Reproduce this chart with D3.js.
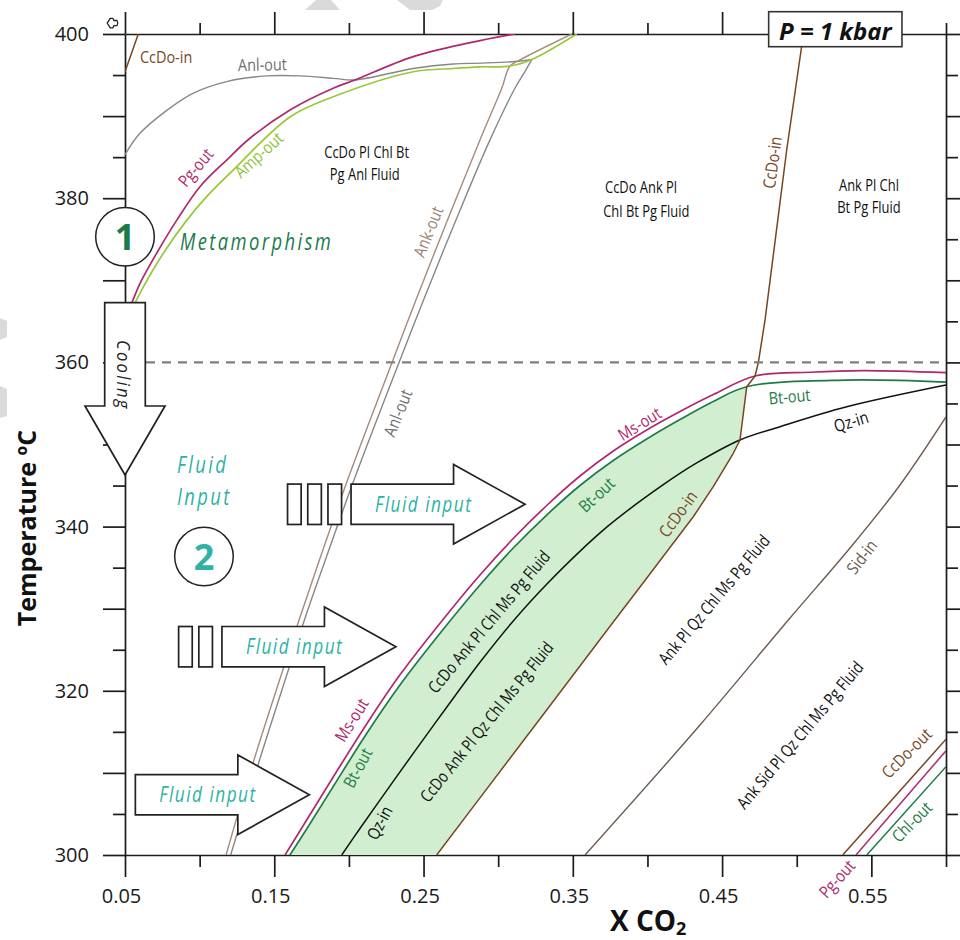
<!DOCTYPE html>
<html>
<head>
<meta charset="utf-8">
<script src="https://cdn.jsdelivr.net/npm/d3@7"></script>
<style>
  body { margin: 0; background: #fff; }
  svg { display: block; }
</style>
</head>
<body>
<svg id="chart" width="960" height="940"></svg>
<script>
// ---------- axis ticks ----------
const xMajorTicks = [0.05, 0.15, 0.25, 0.35, 0.45, 0.55];
const xMinorTicks = [0.10, 0.20, 0.30, 0.40, 0.50, 0.60];
const yMajorTicks = [300, 310, 320, 330, 340, 350, 360, 370, 380, 390, 400];
const yMinorTicks = [305, 315, 325, 335, 345, 355, 365, 375, 385, 395];
const yTickLabels = [300, 320, 340, 360, 380, 400];

// ---------- phase boundaries, [X CO2, T (°C)] ----------
const ccdoInCorner = [[0.05, 395.4], [0.0589, 400]];
const anlOutUpper = [[0.05, 385.3], [0.06, 387.9], [0.078, 390.7], [0.0958, 392.8], [0.1181, 394.2],
  [0.1449, 394.9], [0.1672, 394.9], [0.1895, 394.6], [0.2041, 394.4], [0.2431, 395.8],
  [0.2699, 396.35], [0.2878, 396.45], [0.3113, 396.65], [0.3225, 396.9]];
const pgOut = [[0.05, 365.2], [0.0545, 367.2], [0.06, 369.6], [0.0712, 373.3], [0.0846, 377.3],
  [0.1002, 381.4], [0.1181, 384.65], [0.1337, 387.3], [0.1605, 390.75], [0.1895, 393.4],
  [0.2041, 394.4], [0.2431, 397.25], [0.2878, 399.2], [0.3113, 400]];
const ampOut = [[0.05, 364.6], [0.0567, 367.2], [0.0623, 369.2], [0.0757, 373.3], [0.0913, 377.3],
  [0.1047, 380.2], [0.1226, 383.45], [0.1605, 389.9], [0.1895, 392.35], [0.2431, 395.4],
  [0.2699, 395.8], [0.2878, 396.0], [0.3079, 396.1], [0.3225, 396.9], [0.3526, 400]];
const ankOut = [[0.1177, 300], [0.1364, 311.57], [0.1572, 323.35], [0.1666, 328.63], [0.181, 336.33],
  [0.1991, 345.67], [0.2289, 360.0], [0.2449, 367.6], [0.2674, 377.95], [0.2878, 387.1],
  [0.3024, 393.4], [0.3079, 396.1], [0.3146, 396.85], [0.3493, 400]];
const anlOutLower = [[0.1208, 300], [0.1401, 311.57], [0.1609, 323.35], [0.1702, 328.63], [0.185, 336.33],
  [0.2034, 345.67], [0.2336, 360.0], [0.25, 367.6], [0.2731, 377.95], [0.2945, 387.1],
  [0.3113, 393.42], [0.318, 395.46], [0.3225, 396.87]];
const ccdoIn = [[0.5045, 400], [0.4933, 385.9], [0.4788, 365.2], [0.4743, 360.0], [0.4721, 358.34],
  [0.4665, 357.04], [0.462, 350.55], [0.4575, 348.93], [0.4441, 344.86], [0.4307, 341.2],
  [0.4129, 336.94], [0.395, 332.64], [0.3771, 328.38], [0.3548, 323.02], [0.3325, 317.66],
  [0.3101, 312.3], [0.2878, 306.96], [0.2588, 300]];
const msOut = [[0.1572, 300], [0.1717, 304.26], [0.1895, 309.5], [0.2119, 315.96], [0.2342, 321.94],
  [0.2655, 329.24], [0.2878, 334.11], [0.3101, 338.55], [0.3325, 342.57], [0.3548, 346.16],
  [0.3771, 349.21], [0.3995, 351.77], [0.4218, 354.02], [0.4441, 356.09], [0.4721, 358.34],
  [0.5089, 358.8], [0.5446, 359.0], [0.6, 358.75]];
const btOut = [[0.1605, 300], [0.1717, 303.17], [0.1895, 308.34], [0.2119, 314.8], [0.2342, 320.71],
  [0.2655, 328.01], [0.2878, 332.89], [0.3101, 337.39], [0.3325, 341.41], [0.3548, 345.01],
  [0.3771, 348.05], [0.3995, 350.67], [0.4218, 353.04], [0.4441, 355.24], [0.4665, 357.04],
  [0.5335, 357.85], [0.6, 357.6]];
const qzIn = [[0.1952, 300], [0.2074, 303.23], [0.2253, 307.84], [0.2431, 312.38], [0.2655, 317.99],
  [0.2878, 323.47], [0.3091, 328.29], [0.3325, 332.98], [0.3727, 339.93], [0.4106, 345.1],
  [0.433, 347.75], [0.462, 350.55], [0.4888, 352.17], [0.5335, 354.6], [0.6, 357.25]];
const sidIn = [[0.3582, 300], [0.4352, 315.83], [0.4955, 328.87], [0.5357, 337.39], [0.5692, 345.07],
  [0.6, 353.35]];
const ccdoOut = [[0.5308, 300], [0.6, 314.1]];
const pgOutLow = [[0.5397, 300], [0.6, 312.7]];
const chlOut = [[0.5469, 300], [0.6, 310.75]];
const isotherm = 360;

// ---------- field and reaction labels ----------
const fieldLabels = [
  { t: "CcDo Pl Chl Bt", x: 0.2119, y: 384.86 },
  { t: "Pg Anl Fluid", x: 0.2106, y: 382.22 },
  { t: "CcDo Ank Pl", x: 0.3957, y: 380.6 },
  { t: "Chl Bt Pg Fluid", x: 0.3992, y: 377.75 },
  { t: "Ank Pl Chl", x: 0.5484, y: 380.88 },
  { t: "Bt Pg Fluid", x: 0.5484, y: 378.16 }
];
const slantedFieldLabels = [
  { t: "CcDo Ank Pl Chl Ms Pg Fluid", x: 0.2939, y: 328.4, a: -50 },
  { t: "CcDo Ank Pl Qz Chl Ms Pg Fluid", x: 0.2923, y: 316.2, a: -51 },
  { t: "Ank Pl Qz Chl Ms Pg Fluid", x: 0.4446, y: 331.1, a: -50 },
  { t: "Ank Sid Pl Qz Chl Ms Pg Fluid", x: 0.5022, y: 314.6, a: -50 }
];
const curveLabels = [
  { t: "CcDo-in", x: 0.0600, y: 396.47, a: 0, k: "ccdo", anchor: "start", baseline: true },
  { t: "Anl-out", x: 0.1421, y: 395.53, a: -1, k: "anl", baseline: true },
  { t: "Pg-out", x: 0.0974, y: 383.74, a: -50, k: "pg" },
  { t: "Amp-out", x: 0.1396, y: 385.26, a: -42, k: "amp" },
  { t: "Ank-out", x: 0.2532, y: 375.92, a: -68, k: "ank" },
  { t: "Anl-out", x: 0.2329, y: 353.84, a: -68, k: "anl" },
  { t: "CcDo-in", x: 0.4838, y: 384.35, a: -82, k: "ccdo" },
  { t: "Ms-out", x: 0.3948, y: 352.5, a: -32, k: "pg" },
  { t: "Bt-out", x: 0.3660, y: 343.85, a: -43, k: "bt" },
  { t: "CcDo-in", x: 0.4205, y: 341.53, a: -54, k: "ccdo" },
  { t: "Bt-out", x: 0.4952, y: 355.82, a: -5, k: "bt" },
  { t: "Qz-in", x: 0.5364, y: 352.78, a: -17, k: "qz" },
  { t: "Sid-in", x: 0.5437, y: 336.3, a: -52, k: "sid" },
  { t: "Ms-out", x: 0.2019, y: 316.44, a: -58, k: "pg" },
  { t: "Bt-out", x: 0.2059, y: 310.6, a: -62, k: "bt" },
  { t: "Qz-in", x: 0.2206, y: 303.9, a: -62, k: "qz" },
  { t: "CcDo-out", x: 0.5737, y: 312.39, a: -45, k: "ccdo" },
  { t: "Chl-out", x: 0.5772, y: 304.02, a: -45, k: "bt" },
  { t: "Pg-out", x: 0.5270, y: 297.08, a: -48, k: "pg" }
];

// ---------- styles ----------
const colors = {
  pg: "#b0286d", amp: "#98c83a", anl: "#878787", ank: "#a68b7b",
  ccdo: "#774520", bt: "#1f7b46", qz: "#111111", sid: "#6f5a50",
  field: "#d1efd0", meta: "#1c7a4b", fluid: "#2fb2a5", ink: "#1c1c1c"
};
const labelColors = {
  pg: "#b0286d", amp: "#93c23a", anl: "#6e6e6e", ank: "#9c8170",
  ccdo: "#7a4726", bt: "#1f7b46", qz: "#111111", sid: "#6f5a50"
};
const textFont = '"Open Sans","Noto Sans",sans-serif';

// ---------- scales ----------
const svg = d3.select("#chart");
const x = d3.scaleLinear().domain([0.05, 0.6]).range([125, 946]);
const y = d3.scaleLinear().domain([300, 400]).range([855, 34]);

// faint grey watermark fragments along the page edge
const marks = svg.append("g").attr("fill", "#dadada");
[[[305, 10], [340, 10], [331, 0], [316, 0]],
 [[397, 0], [443, 0], [440, 6], [432, 10], [410, 10]],
 [[0, 318], [7, 321], [7, 337], [0, 340]],
 [[0, 386], [7, 389], [7, 416], [0, 418]]]
  .forEach(p => marks.append("path").attr("d", "M" + p.join("L") + "Z"));

// ---------- axes ----------
function styleAxis(g) {
  g.selectAll("path, line").attr("stroke", colors.ink).attr("stroke-width", 1.7);
  g.selectAll("text").attr("fill", "#1a1a1a")
    .style("font-family", textFont).style("font-size", "20px");
}
function addAxis(gen, values, size, transform, fmt, pad) {
  const g = svg.append("g").attr("transform", transform)
    .call(gen.tickValues(values).tickSize(size).tickSizeOuter(0)
      .tickPadding(pad || 3).tickFormat(fmt || (() => "")));
  styleAxis(g);
  return g;
}
const bottomY = y(300), topY = y(400), leftX = x(0.05), rightX = x(0.6);
const gb = addAxis(d3.axisBottom(x), xMajorTicks, 22, `translate(0,${bottomY})`, d3.format(".2f"), 12);
gb.selectAll("text").attr("dx", -4);
addAxis(d3.axisBottom(x), xMinorTicks, 12, `translate(0,${bottomY})`).select(".domain").remove();
addAxis(d3.axisTop(x), xMajorTicks, 22, `translate(0,${topY})`);
addAxis(d3.axisTop(x), xMinorTicks, 11, `translate(0,${topY})`).select(".domain").remove();
addAxis(d3.axisLeft(y), yMajorTicks, 22, `translate(${leftX},0)`,
  d => yTickLabels.includes(d) ? d : "", 14);
addAxis(d3.axisLeft(y), yMinorTicks, 12, `translate(${leftX},0)`).select(".domain").remove();
addAxis(d3.axisRight(y), yMajorTicks, 22, `translate(${rightX},0)`);
addAxis(d3.axisRight(y), yMinorTicks, 12, `translate(${rightX},0)`).select(".domain").remove();

// axis titles
svg.append("text")
  .attr("transform", `translate(36,528) rotate(-90)`)
  .attr("text-anchor", "middle")
  .style("font-family", textFont).style("font-size", "25px").style("font-weight", 700)
  .attr("fill", "#111").text("Temperature ºC");
const xt = svg.append("text").attr("x", 610).attr("y", 931)
  .style("font-family", textFont).style("font-size", "28px").style("font-weight", 700)
  .attr("fill", "#111");
xt.append("tspan").text("X CO");
xt.append("tspan").attr("dy", 4).style("font-size", "18px").text("2");

// small corner glyph
svg.append("path")
  .attr("d", "M117,20.5 h-3 l-1.2,-2.2 h-2.6 l-3,4.8 l3,4.8 h2.6 l1.2,-2.2 h3 q1.6,-2.6 0,-5.2 z")
  .attr("fill", "none").attr("stroke", "#222").attr("stroke-width", 1.3);

// ---------- plot content ----------
svg.append("clipPath").attr("id", "plotClip").append("rect")
  .attr("x", leftX).attr("y", topY).attr("width", rightX - leftX).attr("height", bottomY - topY);
const plot = svg.append("g").attr("clip-path", "url(#plotClip)");

const smooth = d3.line().x(d => x(d[0])).y(d => y(d[1])).curve(d3.curveCatmullRom.alpha(0.5));
const straight = d3.line().x(d => x(d[0])).y(d => y(d[1]));

// green stability field between Bt-out and the lower CcDo-in branch
const junction = btOut.findIndex(d => d[0] === 0.4665);
const ccdoStart = ccdoIn.findIndex(d => d[0] === 0.4665);
const fieldPath = smooth(btOut.slice(0, junction + 1)) +
  straight(ccdoIn.slice(ccdoStart)).replace(/^M/, "L") + "Z";
plot.append("path").attr("d", fieldPath).attr("fill", colors.field);

const curves = [
  { d: anlOutUpper, c: colors.anl, w: 1.4, g: smooth },
  { d: ankOut, c: colors.ank, w: 1.4, g: smooth },
  { d: anlOutLower, c: colors.anl, w: 1.4, g: smooth },
  { d: ampOut, c: colors.amp, w: 1.7, g: smooth },
  { d: pgOut, c: colors.pg, w: 1.7, g: smooth },
  { d: ccdoInCorner, c: colors.ccdo, w: 1.5, g: straight },
  { d: sidIn, c: colors.sid, w: 1.4, g: smooth },
  { d: qzIn, c: colors.qz, w: 1.5, g: smooth },
  { d: btOut, c: colors.bt, w: 1.7, g: smooth },
  { d: msOut, c: colors.pg, w: 1.7, g: smooth },
  { d: ccdoIn, c: colors.ccdo, w: 1.5, g: straight },
  { d: ccdoOut, c: colors.ccdo, w: 1.5, g: straight },
  { d: pgOutLow, c: colors.pg, w: 1.5, g: straight },
  { d: chlOut, c: colors.bt, w: 1.5, g: straight }
];
curves.forEach(cv => plot.append("path").attr("d", cv.g(cv.d))
  .attr("fill", "none").attr("stroke", cv.c).attr("stroke-width", cv.w)
  .attr("stroke-linejoin", "round"));

// 360 °C isotherm
svg.append("line")
  .attr("x1", leftX + 21).attr("x2", rightX).attr("y1", y(isotherm)).attr("y2", y(isotherm))
  .attr("stroke", "#7f7f7f").attr("stroke-width", 2.4).attr("stroke-dasharray", "9 7");

// ---------- annotations ----------
const outline = { stroke: "#222", "stroke-width": 1.7, fill: "#fff" };
function applyAttrs(sel, a) { Object.entries(a).forEach(([k, v]) => sel.attr(k, v)); return sel; }

// condensed text: drawn at a point, rotated, then squeezed horizontally
function condensed(parent, px, py, angle, squeeze, txt) {
  return parent.append("text")
    .attr("transform", `translate(${px},${py}) rotate(${angle}) scale(${squeeze},1)`)
    .style("font-family", textFont).text(txt);
}

// cooling arrow on the temperature axis
{
  const cx = x(0.05), top = y(367.27), base = y(354.69), tip = y(346.28);
  const sw = 20.3, hw = 40;
  const pts = [[cx - sw, top], [cx + sw, top], [cx + sw, base], [cx + hw, base], [cx, tip],
    [cx - hw, base], [cx - sw, base]];
  applyAttrs(svg.append("path").attr("d", "M" + pts.join("L") + "Z"), outline);
  condensed(svg, cx - 1, (top + base) / 2 + 21, 90, 0.88, "Cooling")
    .attr("text-anchor", "middle").attr("dy", "0.35em")
    .style("font-style", "italic").style("font-size", "19px")
    .style("letter-spacing", "2.5px").attr("fill", "#222");
}

// fluid input arrows
const fluidArrows = [
  { tip: 0.318, T: 342.72, bars: 3 },
  { tip: 0.2315, T: 325.37, bars: 2 },
  { tip: 0.1735, T: 307.34, bars: 0 }
];
fluidArrows.forEach(f => {
  const tx = x(f.tip), cy = y(f.T);
  const headLen = 71.5, bodyLen = 102.5, sh = 20.2, hh = 39.8;
  const b0 = tx - headLen - bodyLen, b1 = tx - headLen;
  const pts = [[b0, cy - sh], [b1, cy - sh], [b1, cy - hh], [tx, cy], [b1, cy + hh],
    [b1, cy + sh], [b0, cy + sh]];
  applyAttrs(svg.append("path").attr("d", "M" + pts.join("L") + "Z"), outline);
  for (let i = 0; i < f.bars; i++) {
    const bx = b0 - 9.5 - 13.6 - i * 20.2;
    applyAttrs(svg.append("rect").attr("x", bx).attr("y", cy - sh)
      .attr("width", 13.6).attr("height", 2 * sh), outline);
  }
  condensed(svg, b0 + 24, cy + 7.5, 0, 0.82, "Fluid input")
    .style("font-style", "italic").style("font-size", "21px")
    .style("letter-spacing", "1.8px").attr("fill", colors.fluid);
});

// numbered stage circles
[{ n: "1", x: 0.05, y: 375.3, c: colors.meta }, { n: "2", x: 0.1029, y: 336.35, c: colors.fluid }]
  .forEach(s => {
    applyAttrs(svg.append("circle").attr("cx", x(s.x)).attr("cy", y(s.y)).attr("r", 29.3), outline)
      .attr("stroke-width", 1.5);
    svg.append("text").attr("x", x(s.x)).attr("y", y(s.y) + 13).attr("text-anchor", "middle")
      .style("font-family", textFont).style("font-weight", 700).style("font-size", "36px")
      .attr("fill", s.c).text(s.n);
  });

// stage captions
condensed(svg, x(0.0868), y(373.69), 0, 0.8, "Metamorphism")
  .style("font-style", "italic").style("font-size", "23px")
  .style("letter-spacing", "3px").attr("fill", colors.meta);
[["Fluid", 346.57], ["Input", 342.63]].forEach(([t, T]) =>
  condensed(svg, x(0.0848), y(T), 0, 0.8, t)
    .style("font-style", "italic").style("font-size", "23px")
    .style("letter-spacing", "3px").attr("fill", colors.fluid));

// pressure box
{
  const bx0 = x(0.4812), bx1 = x(0.5705);
  applyAttrs(svg.append("rect").attr("x", bx0).attr("y", topY - 22.3)
    .attr("width", bx1 - bx0).attr("height", 35), outline).attr("stroke", "#333").attr("stroke-width", 1.6);
  svg.append("text").attr("x", (bx0 + bx1) / 2).attr("y", topY + 5.5).attr("text-anchor", "middle")
    .style("font-family", textFont).style("font-weight", 700).style("font-style", "italic")
    .style("font-size", "24px").attr("fill", "#111").text("P = 1 kbar");
}

// ---------- labels ----------
const lab = svg.append("g");
fieldLabels.forEach(d => condensed(lab, x(d.x), y(d.y), 0, 0.76, d.t)
  .attr("text-anchor", "middle").style("font-size", "17px").attr("fill", "#111"));
slantedFieldLabels.forEach(d => condensed(lab, x(d.x), y(d.y), d.a, 0.82, d.t)
  .attr("text-anchor", "middle").attr("dy", "0.35em")
  .style("font-size", "17px").attr("fill", "#111"));
curveLabels.forEach(d => condensed(lab, x(d.x), y(d.y), d.a, 0.85, d.t)
  .attr("text-anchor", d.anchor || "middle").attr("dy", d.baseline ? 0 : "0.35em")
  .style("font-size", "17px").attr("fill", labelColors[d.k]));
</script>
</body>
</html>
